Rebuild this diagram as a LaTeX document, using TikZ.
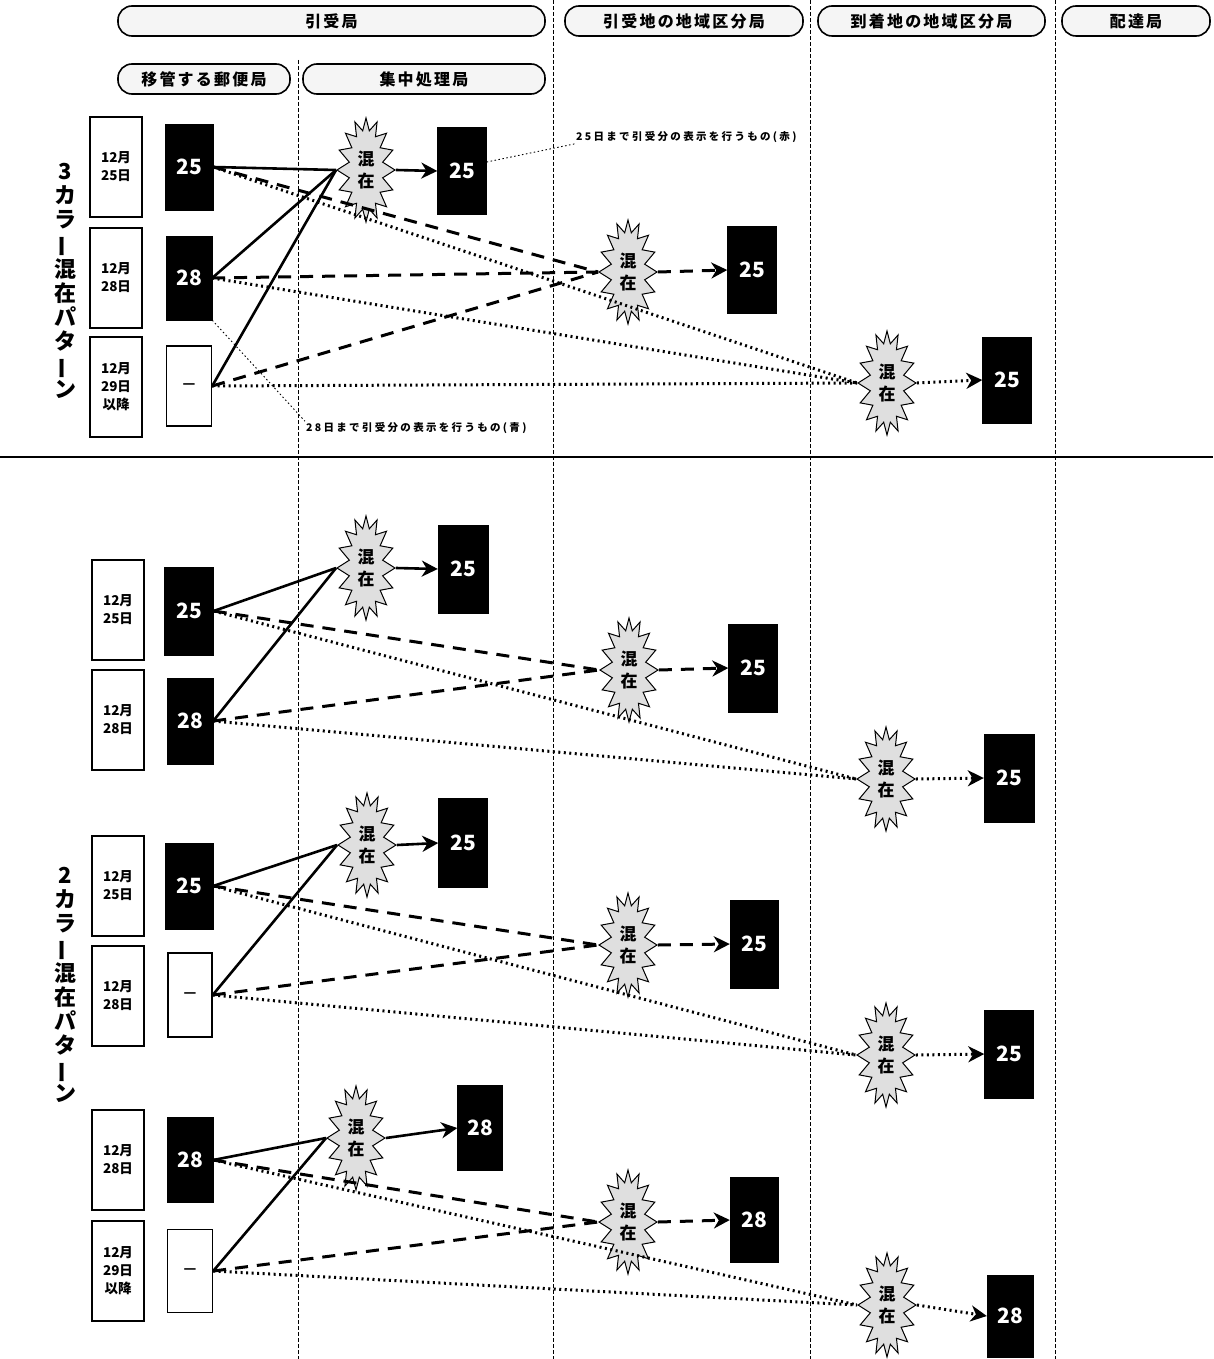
\documentclass[tikz,border=0pt]{standalone}
\usepackage{fontspec}
\usepackage{graphicx}
\setmainfont{Noto Sans CJK JP}
\newfontfamily\notefont[LetterSpace=22]{Noto Sans CJK JP}
\newfontfamily\headfont[LetterSpace=14]{Noto Sans CJK JP}
\usetikzlibrary{shapes.symbols,arrows.meta}
\begin{document}
\begin{tikzpicture}[x=1pt,y=-1pt,
 pill/.style={draw, line width=1.6pt, fill=gray!8, rounded corners=14pt, minimum height=30pt, inner sep=0pt, font=\headfont\bfseries\fontsize{16}{16}\selectfont},
 datebox/.style={draw, line width=1.4pt, fill=white, minimum width=52pt, minimum height=100pt, inner sep=0pt, align=center, font=\bfseries\fontsize{13.5}{18}\selectfont},
 colbox/.style={fill=black, draw=black, minimum width=48pt, minimum height=86pt, inner sep=0pt, text=white, font=\bfseries\fontsize{21}{21}\selectfont},
 blank/.style={draw, line width=1.4pt, fill=white, minimum width=45pt, minimum height=80pt, inner sep=0pt, font=\bfseries\fontsize{14}{14}\selectfont},
 burst/.style={shape=starburst, draw, line width=1pt, fill=gray!25, starburst points=16, starburst point height=12pt, random starburst=0, minimum width=58pt, minimum height=104pt, inner sep=0pt, align=center, font=\bfseries\fontsize{17}{22}\selectfont},
 solidc/.style={line width=2.6pt},
 dashc/.style={line width=3pt, dash pattern=on 13pt off 9pt},
 dotc/.style={line width=3pt, dash pattern=on 2pt off 3.5pt},
 bigtip/.style={-{Stealth[length=16pt,width=16pt,inset=5pt]}},
 divider/.style={line width=0.8pt, dash pattern=on 4pt off 2pt},
 note/.style={font=\notefont\bfseries\fontsize{10.5}{10.5}\selectfont, inner sep=1pt},
 leader/.style={line width=0.9pt, dash pattern=on 1.5pt off 2.5pt},
 vlabel/.style={align=center, font=\bfseries\fontsize{22}{24}\selectfont, inner sep=0pt}
]
\useasboundingbox (0,0) rectangle (1213,1359);

% dividers
\draw[divider] (298,60) -- (298,1359);
\draw[divider] (553,0) -- (553,1359);
\draw[divider] (810,0) -- (810,1359);
\draw[divider] (1055,0) -- (1055,1359);
\draw[line width=1.2pt] (0,457) -- (1213,457);

% header pills
\node[pill, minimum width=427pt] (h1) at (331.5,21) {引受局};
\node[pill, minimum width=238pt] (h2) at (684,21) {引受地の地域区分局};
\node[pill, minimum width=227pt] (h3) at (931.5,21) {到着地の地域区分局};
\node[pill, minimum width=148pt] (h4) at (1136,21) {配達局};
\node[pill, minimum width=172pt] (h5) at (204,79) {移管する郵便局};
\node[pill, minimum width=242pt] (h6) at (424,79) {集中処理局};

% vertical labels
\node[vlabel] (v1) at (65,281) {3\\カ\\ラ\\\rotatebox[origin=c]{90}{ー}\\混\\在\\パ\\タ\\\rotatebox[origin=c]{90}{ー}\\ン};
\node[vlabel] (v2) at (65,985) {2\\カ\\ラ\\\rotatebox[origin=c]{90}{ー}\\混\\在\\パ\\タ\\\rotatebox[origin=c]{90}{ー}\\ン};

% ===== section 1 =====
\node[datebox] (d11) at (116,167) {12月\\25日};
\node[datebox] (d12) at (116,278) {12月\\28日};
\node[datebox] (d13) at (116,387) {12月\\29日\\以降};
\node[colbox] (c11) at (189,167) {25};
\node[colbox, minimum height=84pt, minimum width=46pt] (c12) at (189,278) {28};
\node[blank] (c13) at (189,386) {—};
\node[burst] (b11) at (366,170) {混\\在};
\node[colbox, minimum width=49pt, minimum height=87pt] (o11) at (462,171) {25};
\node[burst] (b12) at (628,272) {混\\在};
\node[colbox, minimum width=49pt, minimum height=87pt] (o12) at (752,270) {25};
\node[burst] (b13) at (887,383) {混\\在};
\node[colbox, minimum width=49pt, minimum height=86pt] (o13) at (1007,380) {25};

\draw[solidc] (c11.east) -- (b11.west);
\draw[solidc] (c12.east) -- (b11.west);
\draw[solidc] (c13.east) -- (b11.west);
\draw[dashc] (c11.east) -- (b12.west);
\draw[dashc] (c12.east) -- (b12.west);
\draw[dashc] (c13.east) -- (b12.west);
\draw[dotc] (c11.east) -- (b13.west);
\draw[dotc] (c12.east) -- (b13.west);
\draw[dotc] (c13.east) -- (b13.west);
\draw[solidc, bigtip] (b11.east) -- (o11.west);
\draw[dashc, bigtip] (b12.east) -- (o12.west);
\draw[dotc, bigtip] (b13.east) -- (o13.west);

\node[note, anchor=west] (a1) at (575,137) {25日まで引受分の表示を行うもの(赤)};
\node[note, anchor=west] (a2) at (305,428) {28日まで引受分の表示を行うもの(青)};
\draw[leader] (o11.20) -- (a1.south west);
\draw[leader] (c12.south east) -- (a2.north west);

% ===== section 2, pair 1 =====
\node[datebox] (d21) at (118,610) {12月\\25日};
\node[datebox] (d22) at (118,720) {12月\\28日};
\node[colbox, minimum width=49pt, minimum height=88pt] (c21) at (189,611) {25};
\node[colbox, minimum width=46pt] (c22) at (190,721) {28};
\node[burst] (b21) at (366,568) {混\\在};
\node[colbox, minimum width=50pt, minimum height=88pt] (o21) at (463,569) {25};
\node[burst] (b22) at (629,670) {混\\在};
\node[colbox, minimum width=49pt, minimum height=88pt] (o22) at (753,668) {25};
\node[burst] (b23) at (886,779) {混\\在};
\node[colbox, minimum width=50pt, minimum height=88pt] (o23) at (1009,778) {25};

\draw[solidc] (c21.east) -- (b21.west);
\draw[solidc] (c22.east) -- (b21.west);
\draw[dashc] (c21.east) -- (b22.west);
\draw[dashc] (c22.east) -- (b22.west);
\draw[dotc] (c21.east) -- (b23.west);
\draw[dotc] (c22.east) -- (b23.west);
\draw[solidc, bigtip] (b21.east) -- (o21.west);
\draw[dashc, bigtip] (b22.east) -- (o22.west);
\draw[dotc, bigtip] (b23.east) -- (o23.west);

% ===== section 2, pair 2 =====
\node[datebox] (d23) at (118,886) {12月\\25日};
\node[datebox] (d24) at (118,996) {12月\\28日};
\node[colbox] (c23) at (189,886) {25};
\node[blank, minimum width=44pt, minimum height=84pt] (c24) at (190,995) {—};
\node[burst] (b24) at (367,845) {混\\在};
\node[colbox, minimum width=49pt, minimum height=89pt] (o24) at (463,843) {25};
\node[burst] (b25) at (628,945) {混\\在};
\node[colbox, minimum width=48pt, minimum height=88pt] (o25) at (754,944) {25};
\node[burst] (b26) at (886,1055) {混\\在};
\node[colbox, minimum width=49pt, minimum height=88pt] (o26) at (1009,1054) {25};

\draw[solidc] (c23.east) -- (b24.west);
\draw[solidc] (c24.east) -- (b24.west);
\draw[dashc] (c23.east) -- (b25.west);
\draw[dashc] (c24.east) -- (b25.west);
\draw[dotc] (c23.east) -- (b26.west);
\draw[dotc] (c24.east) -- (b26.west);
\draw[solidc, bigtip] (b24.east) -- (o24.west);
\draw[dashc, bigtip] (b25.east) -- (o25.west);
\draw[dotc, bigtip] (b26.east) -- (o26.west);

% ===== section 2, pair 3 =====
\node[datebox] (d25) at (118,1160) {12月\\28日};
\node[datebox] (d26) at (118,1271) {12月\\29日\\以降};
\node[colbox, minimum width=46pt, minimum height=85pt] (c25) at (190,1160) {28};
\node[blank, minimum width=45pt, minimum height=83pt] (c26) at (190,1271) {—};
\node[burst] (b27) at (356,1138) {混\\在};
\node[colbox, minimum width=45pt, minimum height=85pt] (o27) at (480,1128) {28};
\node[burst] (b28) at (628,1222) {混\\在};
\node[colbox, minimum width=48pt, minimum height=85pt] (o28) at (754,1220) {28};
\node[burst] (b29) at (887,1305) {混\\在};
\node[colbox, minimum width=46pt, minimum height=82pt] (o29) at (1010,1316) {28};

\draw[solidc] (c25.east) -- (b27.west);
\draw[solidc] (c26.east) -- (b27.west);
\draw[dashc] (c25.east) -- (b28.west);
\draw[dashc] (c26.east) -- (b28.west);
\draw[dotc] (c25.east) -- (b29.west);
\draw[dotc] (c26.east) -- (b29.west);
\draw[solidc, bigtip] (b27.east) -- (o27.west);
\draw[dashc, bigtip] (b28.east) -- (o28.west);
\draw[dotc, bigtip] (b29.east) -- (o29.west);
\end{tikzpicture}
\end{document}
